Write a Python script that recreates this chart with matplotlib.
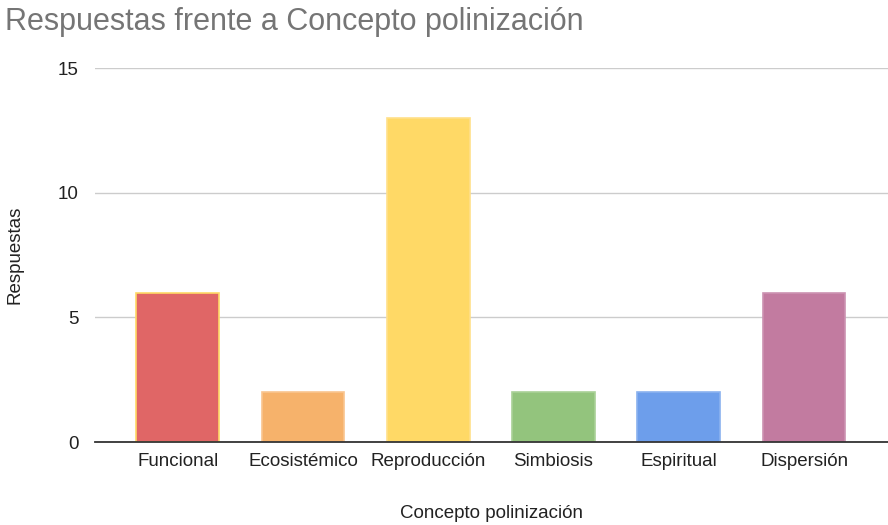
import matplotlib
matplotlib.use("Agg")
import matplotlib.pyplot as plt

categories = ["Funcional", "Ecosistémico", "Reproducción", "Simbiosis", "Espiritual", "Dispersión"]
values = [6, 2, 13, 2, 2, 6]
colors = ["#E06666", "#F6B26B", "#FFD966", "#93C47D", "#6D9EEB", "#C27BA0"]
edges = ["#FFD966", "#F9C58F", "#FFE08A", "#A9D197", "#8AB2EF", "#CC92B2"]
yticks = [0, 5, 10, 15]

plt.rcParams['font.family'] = ['Liberation Sans', 'DejaVu Sans']

fig = plt.figure(figsize=(8.88, 5.25), dpi=100)
ax = fig.add_axes([0.107, 0.158, 0.893, 0.712])

x = list(range(len(categories)))
ax.bar(x, values, width=0.66, color=colors, edgecolor=edges, linewidth=1.2, zorder=3)

ax.set_xlim(-0.66, 5.67)
ax.set_ylim(0, 15)
ax.set_yticks(yticks)
ax.set_xticks(x)
ax.set_xticklabels(categories)
ax.grid(axis='y', color='#cccccc', linewidth=1, zorder=0)
for s in ['top', 'right', 'left']:
    ax.spines[s].set_visible(False)
ax.spines['bottom'].set_color('#333333')
ax.spines['bottom'].set_linewidth(1.3)
ax.spines['bottom'].set_zorder(4)
ax.tick_params(axis='both', length=0, labelsize=13.5, colors='#222222')
ax.tick_params(axis='y', pad=12)
ax.tick_params(axis='x', pad=8)

ax.set_ylabel("Respuestas", fontsize=13.5, color='#222222')
ax.yaxis.set_label_coords(-0.101, 0.5)
ax.yaxis.label.set_va('center')
ax.set_xlabel("Concepto polinización", fontsize=13.5, color='#222222')
ax.xaxis.set_label_coords(0.5, -0.19)
ax.xaxis.label.set_va('center')
fig.text(0.006, 0.958, "Respuestas frente a Concepto polinización", fontsize=22,
         color='#757575', ha='left', va='center')

fig.savefig("out.png", dpi=100)
